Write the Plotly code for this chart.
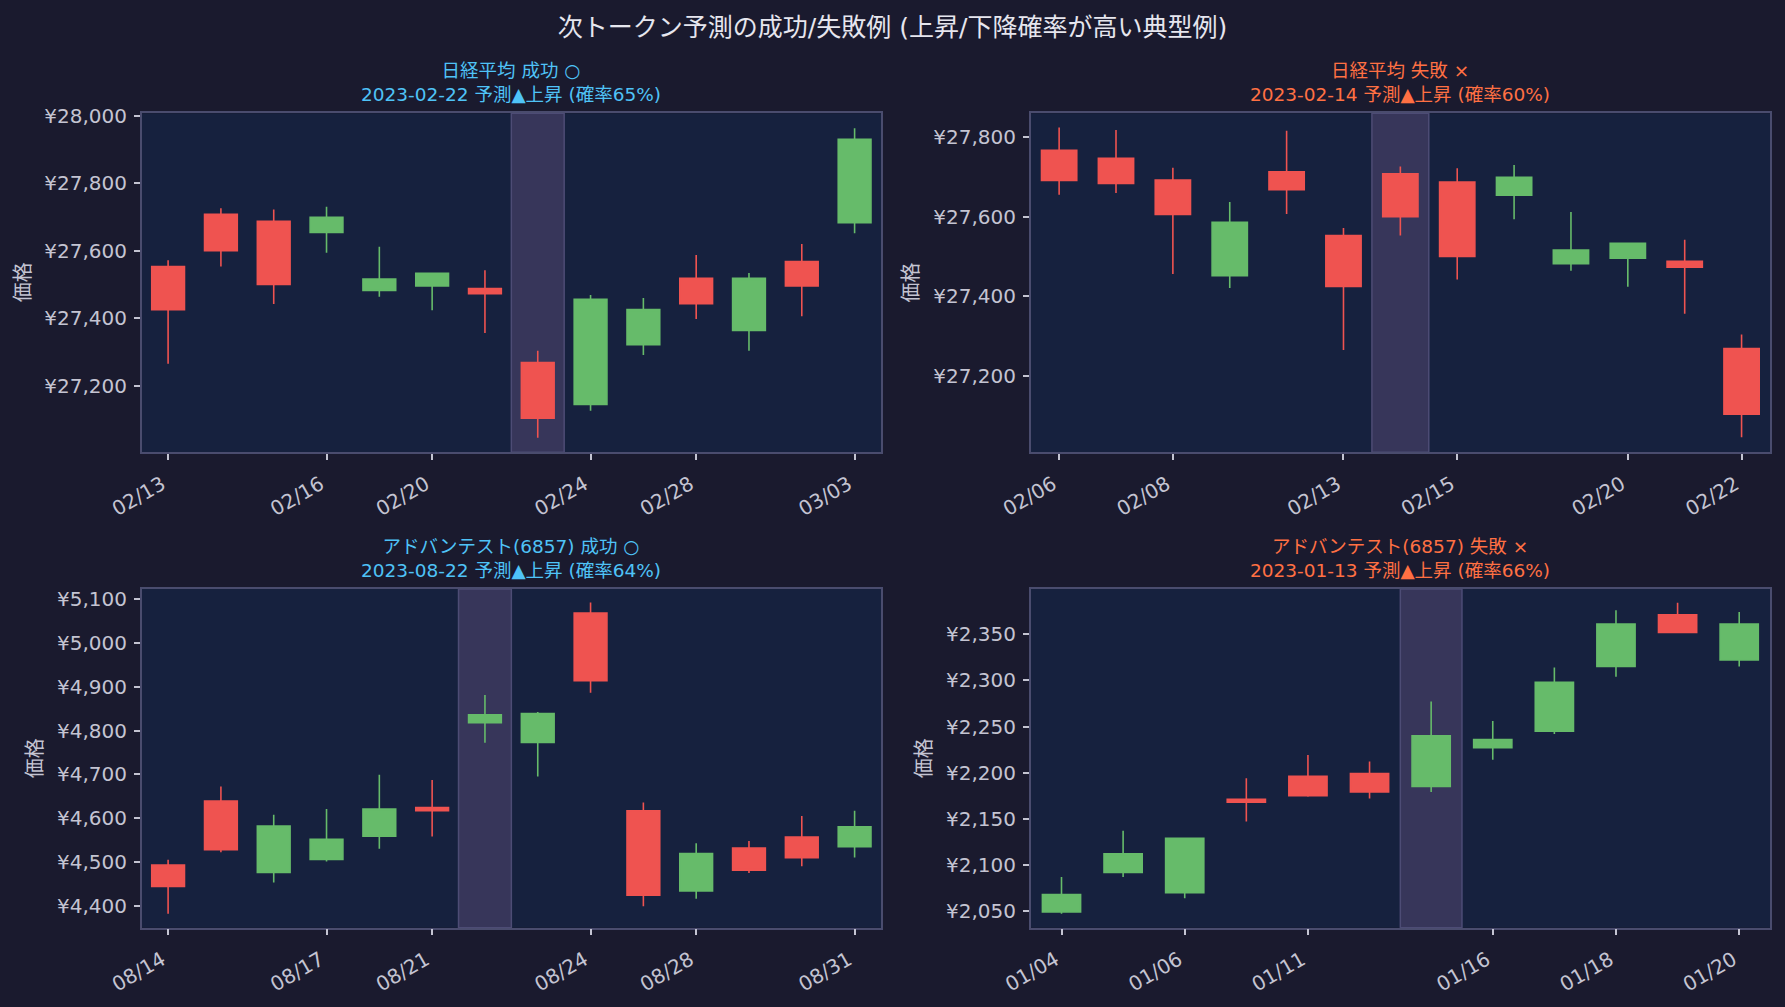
import plotly.graph_objects as go

W, H = 1785, 1007

# ---------------- data ----------------
# 日経平均 (2023-02-06 .. 2023-03-03)
nk_dates = ["02/06", "02/07", "02/08", "02/09", "02/10", "02/13", "02/14", "02/15", "02/16", "02/17",
            "02/20", "02/21", "02/22", "02/24", "02/27", "02/28", "03/01", "03/02", "03/03"]
nk_open = [27767, 27747, 27692, 27452, 27713, 27553, 27708, 27687, 27654, 27482,
           27496, 27488, 27269, 27145, 27322, 27518, 27364, 27568, 27683]
nk_high = [27824, 27818, 27723, 27637, 27816, 27572, 27726, 27722, 27730, 27612,
           27533, 27542, 27304, 27469, 27460, 27587, 27534, 27620, 27963]
nk_low = [27655, 27660, 27456, 27421, 27607, 27265, 27553, 27442, 27594, 27464,
          27424, 27356, 27046, 27126, 27291, 27398, 27304, 27406, 27652]
nk_close = [27691, 27684, 27606, 27586, 27668, 27425, 27600, 27500, 27699, 27516,
            27533, 27473, 27104, 27456, 27426, 27443, 27518, 27496, 27930]

# アドバンテスト(6857) 2023-08
adv_aug_dates = ["08/14", "08/15", "08/16", "08/17", "08/18", "08/21", "08/22",
                 "08/23", "08/24", "08/25", "08/28", "08/29", "08/30", "08/31"]
adv_aug_open = [4493, 4639, 4476, 4506, 4559, 4624, 4818, 4773, 5068, 4617, 4434, 4532, 4557, 4535]
adv_aug_high = [4505, 4672, 4608, 4621, 4699, 4687, 4881, 4842, 5092, 4636, 4543, 4548, 4605, 4617]
adv_aug_low = [4382, 4522, 4453, 4501, 4530, 4558, 4772, 4695, 4886, 4399, 4416, 4475, 4490, 4510]
adv_aug_close = [4444, 4528, 4582, 4552, 4621, 4617, 4836, 4839, 4914, 4424, 4519, 4481, 4510, 4580]

# アドバンテスト(6857) 2023-01
adv_jan_dates = ["01/04", "01/05", "01/06", "01/10", "01/11", "01/12",
                 "01/13", "01/16", "01/17", "01/18", "01/19", "01/20"]
adv_jan_open = [2049, 2092, 2070, 2171, 2196, 2199, 2185, 2227, 2245, 2315, 2371, 2322]
adv_jan_high = [2087, 2137, 2129, 2194, 2219, 2212, 2277, 2256, 2314, 2376, 2384, 2374]
adv_jan_low = [2047, 2087, 2064, 2147, 2174, 2172, 2179, 2214, 2242, 2304, 2352, 2315]
adv_jan_close = [2068, 2112, 2129, 2168, 2175, 2179, 2240, 2236, 2298, 2361, 2352, 2361]

# panel definitions
panel_names = ["日経平均", "日経平均", "アドバンテスト(6857)", "アドバンテスト(6857)"]
panel_results = ["成功 ○", "失敗 ×", "成功 ○", "失敗 ×"]
panel_pred_dates = ["2023-02-22", "2023-02-14", "2023-08-22", "2023-01-13"]
panel_probs = [65, 60, 64, 66]
panel_windows = [("02/13", "03/03"), ("02/06", "02/22"), ("08/14", "08/31"), ("01/04", "01/20")]
panel_ticks = [["02/13", "02/16", "02/20", "02/24", "02/28", "03/03"],
               ["02/06", "02/08", "02/13", "02/15", "02/20", "02/22"],
               ["08/14", "08/17", "08/21", "08/24", "08/28", "08/31"],
               ["01/04", "01/06", "01/11", "01/16", "01/18", "01/20"]]
panel_dticks = [200, 200, 100, 50]
panel_yranges = [[27003, 28007], [27008, 27860], [4350, 5123], [2032, 2399]]

# ---------------- style ----------------
FIG_BG = "#1a1a2e"
PLOT_BG = "#16213e"
SPINE = "#4a4c6e"
TICK_C = "#c4c4d2"
TEXT_C = "#e6e6ee"
UP = "#66bb6a"
DOWN = "#ef5350"
OK_C = "#4fc3f7"
NG_C = "#ff7043"
BAND_FILL = "#37365a"
BAND_LINE = "#4d4c75"
FONT = "DejaVu Sans, Noto Sans CJK JP, sans-serif"

def px_x(p):
    return p / W

def px_y(p):
    return 1 - p / H

x_domains = [[px_x(141.7), px_x(881)], [px_x(1030.7), px_x(1770)]]
y_domains = [[px_y(452.3), px_y(113.3)], [px_y(927.7), px_y(589)]]
ylabel_x = [22.5, 910.8, 35, 924]
title_y = [82.5, 82.5, 558.8, 558.8]

datasets = [
    (nk_dates, nk_open, nk_high, nk_low, nk_close),
    (nk_dates, nk_open, nk_high, nk_low, nk_close),
    (adv_aug_dates, adv_aug_open, adv_aug_high, adv_aug_low, adv_aug_close),
    (adv_jan_dates, adv_jan_open, adv_jan_high, adv_jan_low, adv_jan_close),
]

fig = go.Figure()
annotations = []
shapes = []
layout_axes = {}

for i in range(4):
    dts, o, h, l, c = datasets[i]
    a, b = panel_windows[i]
    s, e = dts.index(a), dts.index(b) + 1
    d, o, h, l, c = dts[s:e], o[s:e], h[s:e], l[s:e], c[s:e]
    n = len(d)
    col, row = i % 2, i // 2
    xname = "x" if i == 0 else f"x{i+1}"
    yname = "y" if i == 0 else f"y{i+1}"
    xkey = "xaxis" if i == 0 else f"xaxis{i+1}"
    ykey = "yaxis" if i == 0 else f"yaxis{i+1}"

    fig.add_trace(go.Candlestick(
        x=d, open=o, high=h, low=l, close=c,
        xaxis=xname, yaxis=yname,
        increasing=dict(line=dict(color=UP, width=1.6), fillcolor=UP),
        decreasing=dict(line=dict(color=DOWN, width=1.6), fillcolor=DOWN),
        whiskerwidth=0, showlegend=False, hoverinfo="skip",
    ))

    layout_axes[xkey] = dict(
        domain=x_domains[col], anchor=yname, type="category", automargin=False,
        range=[-0.5, n - 0.5], rangeslider=dict(visible=False),
        tickmode="array", tickvals=panel_ticks[i], tickangle=-30,
        ticks="outside", ticklen=6, tickwidth=1.5, tickcolor=TICK_C,
        ticklabelstandoff=5, ticklabelshift=-6,
        tickfont=dict(family=FONT, size=20, color=TICK_C),
        showgrid=False, zeroline=False, showline=True, mirror=True,
        linecolor=SPINE, linewidth=1.5, fixedrange=True,
    )
    layout_axes[ykey] = dict(
        domain=y_domains[row], anchor=xname, automargin=False,
        range=panel_yranges[i], tick0=0, dtick=panel_dticks[i],
        tickprefix="¥", tickformat=",d", separatethousands=True,
        ticks="outside", ticklen=6, tickwidth=1.5, tickcolor=TICK_C,
        ticklabelstandoff=3,
        tickfont=dict(family=FONT, size=20, color=TICK_C),
        showgrid=False, zeroline=False, showline=True, mirror=True,
        linecolor=SPINE, linewidth=1.5, fixedrange=True,
    )

    # highlighted prediction day
    pred_md = panel_pred_dates[i][5:].replace("-", "/")
    k = d.index(pred_md)
    shapes.append(dict(
        type="rect", xref=xname, yref=f"{yname} domain",
        x0=k - 0.5, x1=k + 0.5, y0=0, y1=1,
        fillcolor=BAND_FILL, line=dict(color=BAND_LINE, width=1.5), layer="below",
    ))

    tcol = OK_C if "成功" in panel_results[i] else NG_C
    annotations.append(dict(
        xref="paper", yref="paper",
        x=(x_domains[col][0] + x_domains[col][1]) / 2, y=px_y(title_y[i]),
        xanchor="center", yanchor="middle", showarrow=False,
        text=f"{panel_names[i]} {panel_results[i]}<br>{panel_pred_dates[i]} 予測▲上昇 (確率{panel_probs[i]}%)",
        font=dict(family=FONT, size=18.5, color=tcol), align="center",
    ))
    annotations.append(dict(
        xref="paper", yref="paper",
        x=px_x(ylabel_x[i]), y=(y_domains[row][0] + y_domains[row][1]) / 2,
        xanchor="center", yanchor="middle", showarrow=False, textangle=-90,
        text="価格", font=dict(family=FONT, size=20, color=TICK_C),
    ))

fig.update_layout(
    width=W, height=H, autosize=False,
    margin=dict(l=0, r=0, t=0, b=0, pad=0),
    paper_bgcolor=FIG_BG, plot_bgcolor=PLOT_BG,
    boxgap=0.38, boxgroupgap=0,
    title=dict(text="次トークン予測の成功/失敗例 (上昇/下降確率が高い典型例)",
               x=0.5, xanchor="center", y=px_y(27), yanchor="middle", automargin=False,
               font=dict(family=FONT, size=25, color=TEXT_C)),
    annotations=annotations, shapes=shapes,
    **layout_axes,
)

fig.write_html("out.html")
